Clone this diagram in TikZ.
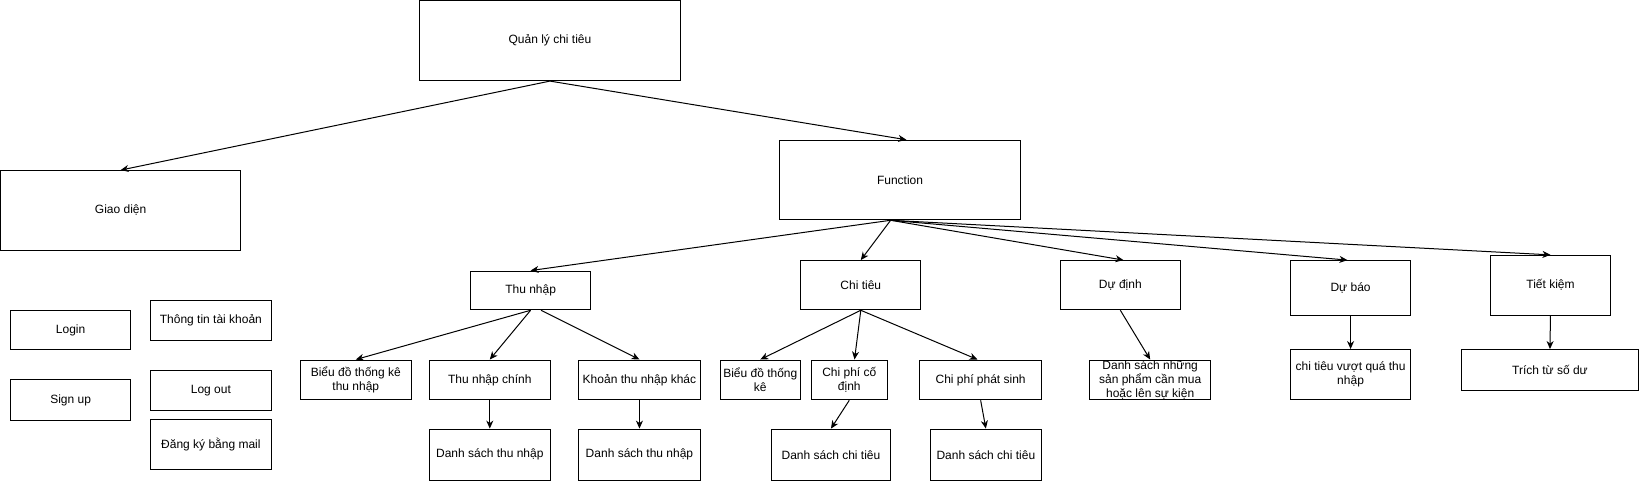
\documentclass[tikz,border=0pt]{standalone}
\usepackage{fontspec}
\setmainfont{Liberation Sans}
\usetikzlibrary{arrows.meta,calc}
\newcommand{\bx}[6]{\node[boxnode, minimum width={(#4-#2)*1.0466pt}, minimum height={(#5-#3)*1.0466pt}] (#1) at ({(#2+#4)/2},{(#3+#5)/2}) {#6};}
\tikzset{
  boxnode/.style={draw=black, line width=1pt, inner sep=0pt, align=center, fill=white,
    font=\fontsize{12}{14}\selectfont},
  arr/.style={draw=black, line width=1pt, -{Stealth[length=8pt,width=7pt,inset=2.5pt]}}
}
\begin{document}
\begin{tikzpicture}[x=1.0466pt, y=-1.0466pt]
\useasboundingbox (0,0) rectangle (1568,460);
% top levels
\bx{q}{401}{0.5}{650}{77}{Quản lý chi tiêu}
\bx{gd}{0.5}{163}{230}{239}{Giao diện}
\bx{fn}{745}{134}{975}{210}{Function}
% second level
\bx{tn}{450}{259}{564}{296}{Thu nhập}
\bx{ct}{765}{249}{880}{296}{Chi tiêu}
\bx{dd}{1013}{249}{1128}{296}{Dự định}
\bx{db}{1233}{249}{1348}{301}{Dự báo}
\bx{tk}{1424}{244}{1539}{301}{Tiết kiệm}
% third level
\bx{bd1}{287}{344}{393}{382}{Biểu đồ thống kê\\thu nhập}
\bx{tnc}{410}{344}{526}{382}{Thu nhập chính}
\bx{kt}{553}{344}{669}{382}{Khoản thu nhập khác}
\bx{ds1}{410}{410}{526}{459}{Danh sách thu nhập}
\bx{ds2}{553}{410}{669}{459}{Danh sách thu nhập}
\bx{bd2}{688}{344}{765}{382}{Biểu đồ thống\\kê}
\bx{cpc}{775}{344}{848}{382}{Chi phí cố\\định}
\bx{cpp}{879}{344}{995}{382}{Chi phí phát sinh}
\bx{dsc1}{737}{410}{851}{459}{Danh sách chi tiêu}
\bx{dsc2}{889}{410}{995}{459}{Danh sách chi tiêu}
\bx{dsn}{1041}{344}{1157}{382}{\fontsize{12}{13.7}\selectfont Danh sách những\\sản phẩm cần mua\\hoặc lên sự kiện}
\bx{vq}{1233}{334}{1348}{382}{chi tiêu vượt quá thu\\nhập}
\bx{tr}{1396}{334}{1566}{373}{Trích từ số dư}
% left group
\bx{login}{10}{297}{125}{334}{Login}
\bx{signup}{10}{363}{125}{402}{Sign up}
\bx{tt}{144}{287}{259}{325}{Thông tin tài khoản}
\bx{lo}{144}{354}{259}{392}{Log out}
\bx{dk}{144}{401}{259}{449}{Đăng ký bằng mail}
% connectors
\coordinate (fns) at ($(fn.south)+(-9,0)$);
\draw[arr] (q.south) -- (gd.north);
\draw[arr] (q.south) -- ($(fn.north)+(6,0)$);
\draw[arr] (fns) -- (tn.north);
\draw[arr] (fns) -- (ct.north);
\draw[arr] (fns) -- ($(dd.north)+(3,0)$);
\draw[arr] (fns) -- ($(db.north)+(-3,0)$);
\draw[arr] (fns) -- (tk.north);
\draw[arr] (tn.south) -- (bd1.north);
\draw[arr] (tn.south) -- (tnc.north);
\draw[arr] ($(tn.south)+(10,0)$) -- (kt.north);
\draw[arr] (tnc.south) -- (ds1.north);
\draw[arr] (kt.south) -- (ds2.north);
\draw[arr] (ct.south) -- (bd2.north);
\draw[arr] (ct.south) -- ($(cpc.north)+(5,0)$);
\draw[arr] (ct.south) -- ($(cpp.north)+(-3,0)$);
\draw[arr] (cpc.south) -- (dsc1.north);
\draw[arr] (cpp.south) -- (dsc2.north);
\draw[arr] (dd.south) -- (dsn.north);
\draw[arr] (db.south) -- (vq.north);
\draw[arr] (tk.south) -- (tr.north);
\end{tikzpicture}
\end{document}
